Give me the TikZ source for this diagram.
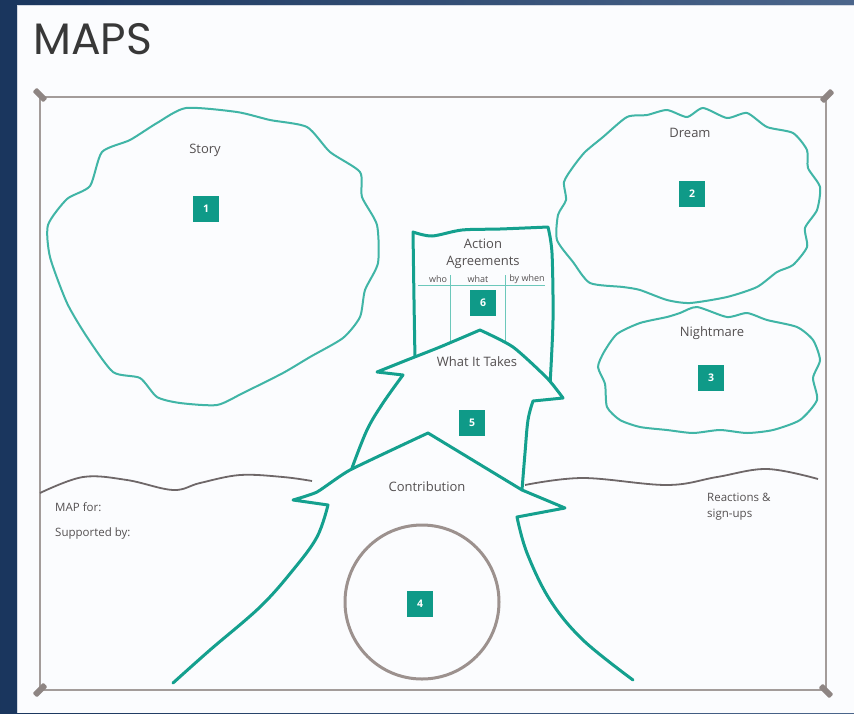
\documentclass[tikz,border=0pt]{standalone}
\usepackage{fontspec}
\setmainfont{Open Sans}
\newfontfamily\titlefont{Poppins}
\definecolor{bgblue}{HTML}{1E3F6E}
\definecolor{panel}{HTML}{FBFCFE}
\definecolor{framegray}{HTML}{A39C9A}
\definecolor{pingray}{HTML}{8E8583}
\definecolor{cloudteal}{HTML}{40B5A6}
\definecolor{arrowteal}{HTML}{14A08E}
\definecolor{boxteal}{HTML}{0F9A88}
\definecolor{tablineteal}{HTML}{6CC8BB}
\definecolor{txtgray}{HTML}{545051}
\definecolor{horizongray}{HTML}{6E6768}
\definecolor{circgray}{HTML}{9C918E}
\tikzset{
  pinbox/.style={fill=pingray, minimum width=15pt, minimum height=6pt, inner sep=0pt, rounded corners=1pt},
  numbox/.style={fill=boxteal, text=white, minimum size=26pt, inner sep=0pt, font=\fontsize{10.5}{11}\selectfont\bfseries},
  cloudline/.style={draw=cloudteal, line width=2pt, fill=panel},
  arrowline/.style={draw=arrowteal, line width=3pt, line join=round, line cap=round},
  lbl/.style={text=txtgray, font=\fontsize{13}{15}\selectfont, inner sep=0pt},
  smalllbl/.style={text=txtgray, font=\fontsize{11.5}{17}\selectfont, inner sep=0pt},
  colhead/.style={text=txtgray, font=\fontsize{9}{10}\selectfont, inner sep=0pt},
}
\begin{document}
\begin{tikzpicture}[x=1pt,y=-1pt]
\useasboundingbox (0,0) rectangle (854,713);
% background
\shade[left color=bgblue!85!black, right color=bgblue!80!white] (0,0) rectangle (854,713);
\fill[panel] (17,5) rectangle (854,713);
\draw[white!80!bgblue, line width=1pt] (17,713) -- (17,5) -- (854,5);
% title
\node[anchor=base west, inner sep=0pt, text=black!78, font=\titlefont\fontsize{44}{44}\selectfont] (title) at (33,54) {MAPS};
% frame
\draw[framegray, line width=2pt] (40,97) rectangle (826,690);
\node[pinbox, rotate=-45] (pintl) at (40,95) {};
\node[pinbox, rotate=45] (pintr) at (827,96) {};
\node[pinbox, rotate=45] (pinbl) at (40,690) {};
\node[pinbox, rotate=-45] (pinbr) at (826,691) {};
% horizon lines
\draw[horizongray, line width=1.8pt] plot[smooth, tension=0.6] coordinates {(40,493) (83,477) (127,480) (173,490) (200,483) (240,475) (283,477) (312,481)};
\draw[horizongray, line width=1.8pt] plot[smooth, tension=0.6] coordinates {(525,485) (583,478) (667,485) (717,477) (767,469) (818,479)};
% Story cloud
\draw[cloudline] plot[smooth cycle, tension=0.4] coordinates {(186,108) (237,112) (270,120) (307,127) (330,152) (360,172) (362,197) (377,225) (378,263) (365,290) (360,317) (343,338) (310,357) (283,373) (243,393) (217,405) (180,403) (157,397) (140,378) (113,372) (87,337) (67,303) (50,257) (48,225) (67,199) (90,186) (102,152) (130,140) (157,123)};
\node[lbl] (story) at (205,150) {Story};
\node[numbox] (n1) at (206,209) {1};
% Dream cloud
\draw[cloudline] plot[smooth cycle, tension=0.4] coordinates {(667,110) (687,117) (703,108) (727,118) (747,113) (767,127) (793,133) (807,150) (808,168) (820,187) (817,210) (805,228) (807,247) (793,265) (777,272) (757,287) (727,297) (690,303) (667,300) (640,290) (623,287) (590,283) (573,262) (557,240) (558,215) (566,200) (564,182) (573,167) (585,152) (603,137) (627,117) (647,115)};
\node[lbl] (dream) at (690,133) {Dream};
\node[numbox] (n2) at (692,194) {2};
% Nightmare cloud
\draw[cloudline] plot[smooth cycle, tension=0.4] coordinates {(680,313) (697,307) (727,317) (747,313) (767,320) (797,327) (813,340) (820,360) (813,378) (817,400) (800,420) (773,430) (747,433) (720,430) (693,433) (667,430) (640,427) (620,420) (607,407) (605,384) (598,367) (604,352) (617,334) (640,323) (667,317)};
\node[lbl] (nightmare) at (712,333) {Nightmare};
\node[numbox] (n3) at (711,378) {3};
% Action agreements box
\draw[arrowline] plot[smooth, tension=0.5] coordinates {(415,360) (414,300) (413,232)}
  -- plot[smooth, tension=0.5] coordinates {(413,232) (432,236) (462,230) (500,229) (548,227)}
  -- plot[smooth, tension=0.5] coordinates {(548,227) (552,253) (553,320) (550,385)};
\draw[tablineteal, line width=1pt] (418,285) -- (545,285);
\draw[tablineteal, line width=1pt] (450,275) -- (450,360);
\draw[tablineteal, line width=1pt] (505,275) -- (505,360);
\node[lbl, align=center, font=\fontsize{13}{17}\selectfont] (aa) at (483,254) {Action\\Agreements};
\node[colhead] (who) at (438,279) {who};
\node[colhead] (what) at (478,279) {what};
\node[colhead] (bywhen) at (527,279) {by when};
\node[numbox] (n6) at (483,303) {6};
% What It Takes arrow
\fill[panel] plot[smooth, tension=0.6] coordinates {(352,468) (367,430) (383,403) (403,375)} -- (377,372)
  -- plot[smooth, tension=0.4] coordinates {(377,372) (407,360) (440,347) (480,330)}
  -- plot[smooth, tension=0.4] coordinates {(480,330) (513,347) (547,378) (563,398)}
  -- (533,401) -- plot[smooth, tension=0.6] coordinates {(533,401) (528,420) (525,453) (522,490)} -- cycle;
\draw[arrowline] plot[smooth, tension=0.6] coordinates {(352,468) (367,430) (383,403) (403,375)} -- (377,372)
  -- plot[smooth, tension=0.4] coordinates {(377,372) (407,360) (440,347) (480,330)}
  -- plot[smooth, tension=0.4] coordinates {(480,330) (513,347) (547,378) (563,398)}
  -- (533,401) -- plot[smooth, tension=0.6] coordinates {(533,401) (528,420) (525,453) (522,490)};
\node[lbl] (wit) at (477,362) {What It Takes};
\node[numbox] (n5) at (472,423) {5};
% Contribution arrow
\fill[panel] plot[smooth, tension=0.6] coordinates {(173,683) (210,650) (260,607) (293,570) (317,537) (328,505)} -- (293,500)
  -- plot[smooth, tension=0.3] coordinates {(293,500) (317,492) (350,470) (428,433)}
  -- (522,490) -- (565,508) -- (517,517)
  -- plot[smooth, tension=0.6] coordinates {(517,517) (527,553) (550,600) (583,640) (633,680)} -- cycle;
\draw[arrowline] plot[smooth, tension=0.6] coordinates {(173,683) (210,650) (260,607) (293,570) (317,537) (328,505)} -- (293,500)
  -- plot[smooth, tension=0.3] coordinates {(293,500) (317,492) (350,470) (428,433)}
  -- (522,490) -- (565,508) -- (517,517)
  -- plot[smooth, tension=0.6] coordinates {(517,517) (527,553) (550,600) (583,640) (633,680)};
\node[lbl] (contrib) at (427,487) {Contribution};
% circle 4
\draw[circgray, line width=3pt] (422,602) circle[radius=77];
\node[numbox] (n4) at (420,604) {4};
% side texts
\node[smalllbl, anchor=base west] (mapfor) at (55,511) {MAP for:};
\node[smalllbl, anchor=base west] (supp) at (55,536) {Supported by:};
\node[smalllbl, anchor=north west, align=left, font=\fontsize{11.5}{16}\selectfont] (react) at (707,493) {Reactions \&\\sign-ups};
\end{tikzpicture}
\end{document}
